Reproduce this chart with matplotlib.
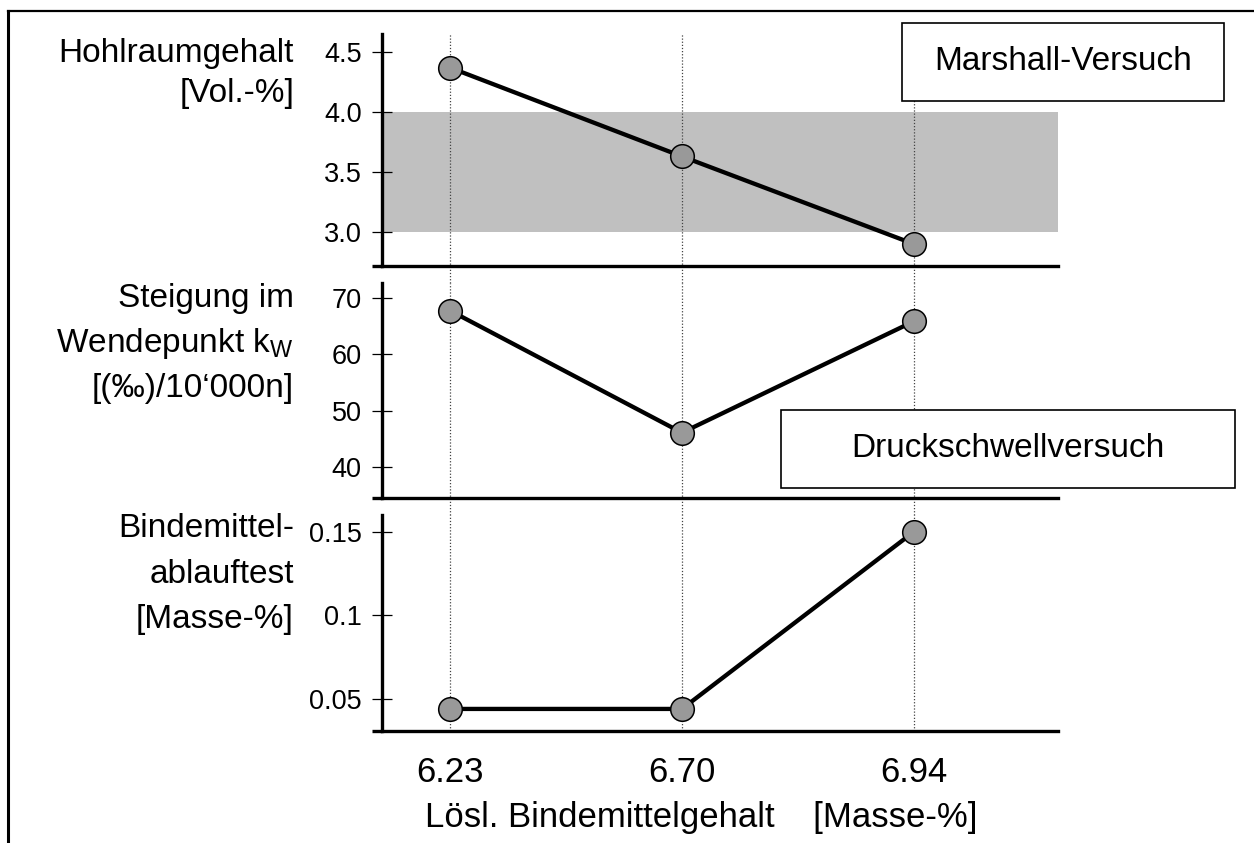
import matplotlib
matplotlib.use("Agg")
import matplotlib.pyplot as plt
from matplotlib.lines import Line2D
from matplotlib.patches import Rectangle

plt.rcParams['font.family'] = ['Liberation Sans', 'DejaVu Sans']
plt.rcParams['mathtext.fontset'] = 'custom'
plt.rcParams['mathtext.rm'] = 'Liberation Sans'

# Daten
gehalt = ['6.23', '6.70', '6.94']
hohlraum = [4.37, 3.63, 2.90]
steigung = [67.8, 46.1, 65.9]
ablauf = [0.044, 0.044, 0.150]

W, H = 1254, 843
fig = plt.figure(figsize=(W / 100, H / 100), dpi=100)


def fx(px):
    return px / W


def fy(py):
    return 1 - py / H


def make_ax(top, bottom):
    ax = fig.add_axes([fx(382), fy(bottom), fx(1058) - fx(382), (bottom - top) / H])
    ax.set_facecolor('none')
    for s in ['top', 'right']:
        ax.spines[s].set_visible(False)
    for s in ['left', 'bottom']:
        ax.spines[s].set_linewidth(2.4)
    # Grundlinie etwas nach links verlängert
    ax.plot([-10 / 676, 0], [0, 0], transform=ax.transAxes, color='black',
            lw=2.4, clip_on=False, solid_capstyle='butt')
    ax.set_xlim(-0.293, 2.621)
    ax.tick_params(axis='y', direction='inout', length=15, width=0.9,
                   labelsize=19.5, pad=7)
    ax.tick_params(axis='x', length=0)
    ax.set_xticks(range(len(gehalt)))
    ax.set_xticklabels([])
    return ax


ax1 = make_ax(34, 266)
ax2 = make_ax(283, 498)
ax3 = make_ax(515, 731)

# Sollbereich Hohlraumgehalt
ax1.axhspan(3.0, 4.0, color='#c0c0c0', lw=0, zorder=0.5)

# gepunktete Hilfslinien
gaps = {ax1: 17 / 232, ax2: 17 / 215, ax3: 0}
for ax, g in gaps.items():
    for i in range(len(gehalt)):
        ax.axvline(i, ymin=-g, ymax=1, color='#444444', lw=0.9, ls=(0, (1, 1.5)),
                   clip_on=False, zorder=1)

for ax, vals in [(ax1, hohlraum), (ax2, steigung), (ax3, ablauf)]:
    ax.plot(range(len(gehalt)), vals, color='black', lw=3.1, zorder=3,
            marker='o', markersize=17, markerfacecolor='#999999',
            markeredgecolor='black', markeredgewidth=1.1)

ax1.set_ylim(2.717, 4.65)
ax1.set_yticks([3.0, 3.5, 4.0, 4.5])
ax1.set_yticklabels(['3.0', '3.5', '4.0', '4.5'])
ax2.set_ylim(34.5, 72.7)
ax2.set_yticks([40, 50, 60, 70])
ax3.set_ylim(0.0308, 0.160)
ax3.set_yticks([0.05, 0.1, 0.15])
ax3.set_yticklabels(['0.05', '0.1', '0.15'])

ax3.set_xticklabels(gehalt, fontsize=25)
ax3.tick_params(axis='x', pad=18)

# Achsenbeschriftungen links
labels = [
    ('Hohlraumgehalt', 62), ('[Vol.-%]', 102),
    ('Steigung im', 307), (r'Wendepunkt k$_\mathregular{W}$', 352),
    ('[(‰)/10‘000n]', 397),
    ('Bindemittel-', 537), ('ablauftest', 583), ('[Masse-%]', 628),
]
for txt, yb in labels:
    fig.text(fx(294), fy(yb), txt, ha='right', va='baseline', fontsize=24)

fig.text(fx(701), fy(818), 'Lösl. Bindemittelgehalt    [Masse-%]',
         ha='center', va='center', fontsize=25)

# Kästen
for x0, y0, x1, y1, txt in [(902, 23, 1224, 101, 'Marshall-Versuch'),
                            (781, 410, 1235, 488, 'Druckschwellversuch')]:
    fig.add_artist(Rectangle((fx(x0), fy(y1)), fx(x1) - fx(x0), (y1 - y0) / H,
                             transform=fig.transFigure, facecolor='white',
                             edgecolor='black', lw=1.2, zorder=5))
    fig.text(fx((x0 + x1) / 2), fy((y0 + y1) / 2), txt, ha='center', va='center',
             fontsize=24, zorder=6)

# Rahmen
fig.add_artist(Line2D([fx(8), 1], [fy(11), fy(11)], color='black', lw=1.6))
fig.add_artist(Line2D([fx(8), fx(8)], [fy(11), 0], color='black', lw=2.2))

fig.savefig('out.png', dpi=100)
